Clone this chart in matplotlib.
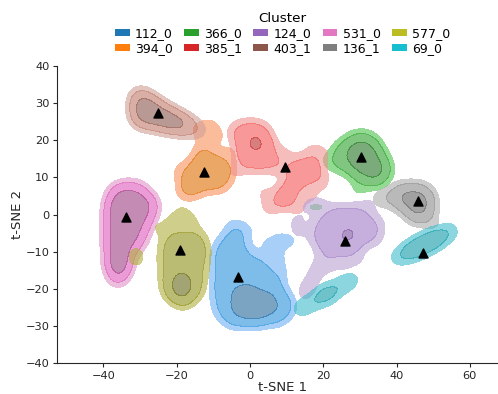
import numpy as np
import matplotlib.pyplot as plt
from matplotlib.colors import to_rgba
from matplotlib.patches import Patch
from seaborn.external import husl

# cluster labels in hue order (tab10 colours)
clusters = ["112_0", "394_0", "366_0", "385_1", "124_0",
            "403_1", "531_0", "136_1", "577_0", "69_0"]
colors = ["tab:blue", "tab:orange", "tab:green", "tab:red", "tab:purple",
          "tab:brown", "tab:pink", "tab:gray", "tab:olive", "tab:cyan"]

# cluster centroids (triangles)
cent_x = [-3.3, -12.6, 30.3, 9.5, 25.9, -25.1, -33.8, 45.8, -19.1, 47.2]
cent_y = [-16.8, 11.4, 15.5, 12.8, -7.1, 27.3, -0.7, 3.6, -9.5, -10.3]

# t-SNE points per cluster
pts_112_0 = [(-0.8, -18), (-1.7, -19.6), (0.1, -19.6),
             (-4.2, -21.2), (-2.4, -21.2), (-0.6, -21.2), (1.2, -21.2),
             (-4.5, -23), (-2.7, -23), (-0.9, -23), (0.9, -23), (2.7, -23), (4.5, -23), (6, -23),
             (-4.5, -24.8), (-2.7, -24.8), (-0.9, -24.8), (0.9, -24.8), (2.7, -24.8), (4.5, -24.8), (6.2, -24.8),
             (-3.2, -26.6), (-1.4, -26.6), (0.4, -26.6), (2.2, -26.6), (4, -26.6), (5.8, -26.6),
             (-0.5, -27.9), (1.3, -27.9), (3.1, -27.9),
             (-5.5, -6), (-3.3, -6),
             (-8, -8.5), (-5.5, -8.5), (-3, -8.5),
             (-8.5, -11), (-6, -11), (-3.5, -11), (-1, -11),
             (-8.5, -13.5), (-6, -13.5), (-3.5, -13.5), (-1, -13.5), (1.5, -13.5), (3, -13.5),
             (-8.5, -16), (-6, -16), (-3.5, -16), (2, -16), (4.5, -16),
             (-8.5, -18.5), (-6, -18.5), (-3.8, -18.5), (2.5, -18.5), (5, -18.5), (7, -18.5),
             (-8.5, -21), (-6.5, -21), (3.5, -21), (6, -21), (8, -21),
             (-8.2, -23.5), (8.5, -23.5), (10.4, -23.5),
             (-8, -26), (-5.5, -26), (8, -26), (10.2, -26),
             (-5.5, -28.5), (-3, -28.5), (7.5, -28.2),
             (-4.5, -3), (-1, -4.2), (4.5, -8), (8, -6.5), (11.5, -7),
             (8, -11.5), (8.5, -15.5)]
pts_394_0 = [(-18, 6), (-15.5, 6),
             (-17.5, 8), (-15, 8), (-12.5, 8), (-10, 8), (-7.7, 8),
             (-16.5, 10.3), (-14, 10.3), (-11.5, 10.3), (-9, 10.3), (-6.5, 10.3),
             (-15.5, 12.6), (-13, 12.6), (-10.5, 12.6), (-8, 12.6), (-5.6, 12.6),
             (-14, 14.8), (-11.5, 14.8), (-9, 14.8), (-13, 16.8),
             (-12.3, 20.3), (-14.5, 23), (-11, 24.3), (-8.5, 21.5),
             (-19.3, 11.8), (-5, 17)]
pts_366_0 = [(28.5, 20), (30.3, 20), (32.1, 20),
             (27.2, 18.2), (29, 18.2), (30.8, 18.2), (32.6, 18.2), (34, 18),
             (26.8, 16.4), (28.6, 16.4), (30.4, 16.4), (32.2, 16.4), (34, 16.4),
             (26.8, 14.6), (28.6, 14.6), (30.4, 14.6), (32.2, 14.6), (34, 14.6), (35.7, 14.6),
             (27.8, 12.8), (29.6, 12.8), (31.4, 12.8), (33.2, 12.8), (35, 12.8), (36.6, 12.8),
             (29.5, 11), (31.3, 11), (33.1, 11), (34.9, 11), (36.6, 11),
             (33, 9.5), (34.8, 9.5),
             (24.2, 13), (24.2, 15.5), (24.8, 18),
             (21.2, 14.5), (29.5, 6.5),
             (15.9, 2), (20.1, 2)]
pts_385_1 = [(-1.8, 23.5), (0.7, 23.5), (3.2, 23.2),
             (-2.6, 21), (-0.1, 21), (2.4, 21), (4.5, 20.5),
             (-2.6, 18.5), (-0.1, 18.5), (2.4, 18.5), (4.9, 18.5),
             (-2.6, 16), (-0.1, 16), (2.4, 16), (4.9, 16),
             (-1.5, 13.5), (1, 13.5), (3.5, 13.5), (5.8, 13.5),
             (1.6, 19.4), (1.6, 19.0),
             (12.5, 13.7), (15, 13.7), (17.5, 13.7),
             (11.9, 11.2), (14.4, 11.2), (16.9, 11.2), (18.5, 11.2),
             (12.5, 9), (15, 9),
             (11.2, 7.8), (10, 6.3), (8.8, 4.8), (7.4, 3.4), (9.8, 3.4), (11.3, 5.2),
             (9, 16.5), (8.5, 13), (17, 17.3), (20.2, 16.2),
             (3.5, 6), (4.8, 1.5), (13.5, 0.8), (17, 4.5), (20, 8.5),
             (-4.5, 22.5), (-4.5, 11)]
pts_124_0 = [(22.5, 0.7), (25, 0.7), (27.5, 0.7), (30, 0.7),
             (19.5, -1.8), (22, -1.8), (24.5, -1.8), (27, -1.8), (29.5, -1.8), (32, -1.8),
             (18.5, -4.3), (21, -4.3), (23.5, -4.3), (26, -4.3), (28.5, -4.3), (31, -4.3), (32.8, -4.3),
             (18.5, -6.8), (21, -6.8), (23.5, -6.8), (26, -6.8), (28.5, -6.8), (31, -6.8),
             (20, -9.3), (22.5, -9.3), (25, -9.3), (27.5, -9.3),
             (26.8, -5.6), (26.8, -6.0),
             (15.5, 2.5), (19, 3.5), (33, 3), (12.5, -1.5), (13, -5),
             (35.2, -2.5), (34.5, -6.5),
             (29.5, -12), (25.5, -13.5), (21.5, -13),
             (19, -13.8), (17.5, -16.5), (16, -19.3), (14.8, -21.6)]
pts_403_1 = [(-30.5, 32.3), (-30.5, 30.5), (-30.5, 28.7), (-30.5, 26.9), (-30.5, 25.2),
             (-28.7, 31.2), (-28.7, 29.4), (-28.7, 27.6), (-28.7, 25.8),
             (-26.9, 30), (-26.9, 28.2), (-26.9, 26.4), (-26.9, 24.8),
             (-25.1, 28.8), (-25.1, 27), (-25.1, 25.2),
             (-23.3, 27.6), (-23.3, 25.8), (-23.3, 24.3),
             (-21.5, 26.4), (-21.5, 24.6),
             (-19.7, 25.2), (-19.7, 24), (-17.9, 24.1),
             (-29.6, 29.6), (-27.8, 28.4), (-27.8, 26.6),
             (-24.2, 26.1), (-22.4, 25.2), (-20.6, 24.9), (-18.8, 24.4), (-17, 23.8),
             (-15.8, 23.2), (-13.5, 22.6)]
pts_531_0 = [(-35.8, 6.6), (-34, 6.6), (-32.2, 6.6), (-30.6, 6.6),
             (-36.8, 4.8), (-35.7, 4.8), (-33.9, 4.8), (-32.1, 4.8), (-30.3, 4.8), (-28.7, 4.8),
             (-37.3, 3), (-36.4, 3), (-34.6, 3), (-32.8, 3), (-31, 3), (-29.2, 3), (-27.6, 3),
             (-37.5, 1.2), (-36.4, 1.2), (-34.9, 1.2), (-33.1, 1.2), (-31.3, 1.2), (-29.5, 1.2), (-27.7, 1.2),
             (-37.5, -0.6), (-36.4, -0.6), (-34.9, -0.6), (-33.1, -0.6), (-31.3, -0.6), (-29.5, -0.6),
             (-37.5, -2.4), (-36.4, -2.4), (-34.9, -2.4), (-33.1, -2.4), (-31.3, -2.4), (-29.3, -2.4),
             (-37.5, -4.2), (-36.4, -4.2), (-34.9, -4.2), (-33.1, -4.2), (-31.1, -4.2),
             (-37.5, -6), (-36.4, -6), (-34.9, -6), (-33.1, -6), (-31.6, -6),
             (-37.4, -7.8), (-36.3, -7.8), (-34.8, -7.8), (-33, -7.8),
             (-37.3, -9.6), (-36.2, -9.6), (-34.7, -9.6), (-33, -9.6),
             (-37.1, -11.4), (-36, -11.4), (-34.4, -11.4),
             (-36.9, -13.2), (-35.8, -13.2), (-34.3, -13.2),
             (-36.7, -15), (-35.2, -15), (-36.3, -16.4),
             (-27, 2.1), (-28.3, -1.5), (-29.8, -5), (-30.5, -7.5),
             (-36.8, -12.3), (-35.3, -14.1), (-36, -17.2)]
pts_136_1 = [(40.5, 6.3), (42.3, 6.3), (44.1, 6.3), (45.9, 6.3), (47.5, 6),
             (39.6, 4.5), (41.4, 4.5), (43.2, 4.5), (45, 4.5), (46.8, 4.5), (48.6, 4.5),
             (41.5, 2.7), (43.2, 2.7), (45, 2.7), (46.8, 2.7), (48.8, 2.7),
             (44.4, 0.9), (46.2, 0.9), (48, 0.9), (45, -0.5), (47.2, -0.5),
             (37, 4.5), (34.8, 4), (50.3, -2.5)]
pts_577_0 = [(-21.5, -6.1), (-19, -6.1), (-16.5, -6.1), (-14, -6.1),
             (-22.7, -8.6), (-20.2, -8.6), (-17.7, -8.6), (-15.2, -8.6), (-13.3, -8.6),
             (-22.7, -11.1), (-20.2, -11.1), (-17.7, -11.1), (-15.2, -11.1), (-13.3, -11.1),
             (-22.7, -13.6), (-20.2, -13.6), (-16.5, -13.6), (-13.5, -13.6),
             (-22.5, -16.1), (-14, -16.1), (-22.2, -18.6), (-14.3, -18.6),
             (-21.5, -21.1), (-15, -21.1), (-18.3, -23.2),
             (-18.4, -15.4), (-20, -16.8), (-18.2, -16.8), (-16.4, -16.8),
             (-20.6, -18.6), (-18.8, -18.6), (-17, -18.6),
             (-20.4, -20.4), (-18.6, -20.4), (-16.8, -20.4),
             (-19.4, -22.1), (-17.6, -22.1),
             (-18.5, 1.2), (-21.5, -1.5), (-15.5, -1.5), (-25.8, -3.5),
             (-31.1, -10.2), (-31.1, -12.6)]
pts_69_0 = [(40.07, -11.72), (42.04, -10.75), (43.66, -9.95), (44.64, -9.46),
            (45.63, -8.97), (46.61, -8.49), (47.6, -8.0), (48.59, -7.51),
            (49.57, -7.03), (50.56, -6.54), (51.54, -6.05), (53.16, -5.25),
            (55.13, -4.28),
            (13.26, -25.64), (15.45, -24.42), (17.64, -23.2), (19.65, -22.08),
            (20.7, -21.5), (21.75, -20.92), (23.76, -19.8), (25.95, -18.58),
            (28.14, -17.36)]

points = [pts_112_0, pts_394_0, pts_366_0, pts_385_1, pts_124_0,
          pts_403_1, pts_531_0, pts_136_1, pts_577_0, pts_69_0]
bandwidth = [2.2, 2.2, 2.2, 2.2, 2.2, 2.2, 2.2, 2.2, 2.2, 2.1]

# density levels (relative) and the shade used for each band
level_frac = [0.25, 0.55, 1.3]
band_light = [70, 58, 42]
band_sat = [0.9, 1.0, 0.95]


def band_colors(color):
    r, g, b, _ = to_rgba(color)
    h, s, _ = husl.rgb_to_husl(r, g, b)
    return [np.clip(husl.husl_to_rgb(h, s * k, lt), 0, 1)
            for k, lt in zip(band_sat, band_light)]


gx = np.arange(-56, 74, 0.25)
gy = np.arange(-43, 43, 0.25)
GX, GY = np.meshgrid(gx, gy)

fig = plt.figure(figsize=(4.98, 3.94), dpi=100)
# the right end of the axes runs just past the figure edge, as in the original
ax = fig.add_axes([0.115, 0.078, 0.905, 0.755])

for pts, col, bw in zip(points, colors, bandwidth):
    p = np.array(pts)
    d2 = (GX[..., None] - p[:, 0]) ** 2 + (GY[..., None] - p[:, 1]) ** 2
    z = np.exp(-d2 / (2 * bw ** 2)).sum(-1)
    ref = 2 * np.pi * bw ** 2 / 2.5 ** 2
    lev = [f * ref for f in level_frac] + [max(z.max(), 1.3 * ref) * 1.01]
    ax.contourf(GX, GY, z, levels=lev, colors=band_colors(col), alpha=0.6)

ax.scatter(cent_x, cent_y, marker="^", s=42, color="black", zorder=5)

ax.set_xlim(-52.6, 70.4)
ax.set_ylim(-40, 40)
ax.set_xticks([-40, -20, 0, 20, 40, 60])
ax.set_yticks(range(-40, 41, 10))
ax.tick_params(labelsize=8.2, length=3, width=0.8, pad=2.5,
               color="#262626", labelcolor="#262626")
for side in ["top", "right"]:
    ax.spines[side].set_visible(False)
for side in ["left", "bottom"]:
    ax.spines[side].set_color("#262626")
    ax.spines[side].set_linewidth(0.8)
ax.set_xlabel("t-SNE 1", fontsize=9.5, color="#262626", labelpad=0.3)
ax.set_ylabel("t-SNE 2", fontsize=9.5, color="#262626", labelpad=1)

handles = [Patch(facecolor=c) for c in colors]
ax.legend(handles, clusters, title="Cluster", ncol=5, loc="lower center",
          bbox_to_anchor=(0.5, 1.016), frameon=False, fontsize=9,
          title_fontsize=9.7, handlelength=1.18, handleheight=0.42,
          handletextpad=0.43, columnspacing=0.9, labelspacing=0.15,
          borderaxespad=0.1)

fig.savefig("out.png", dpi=100)
